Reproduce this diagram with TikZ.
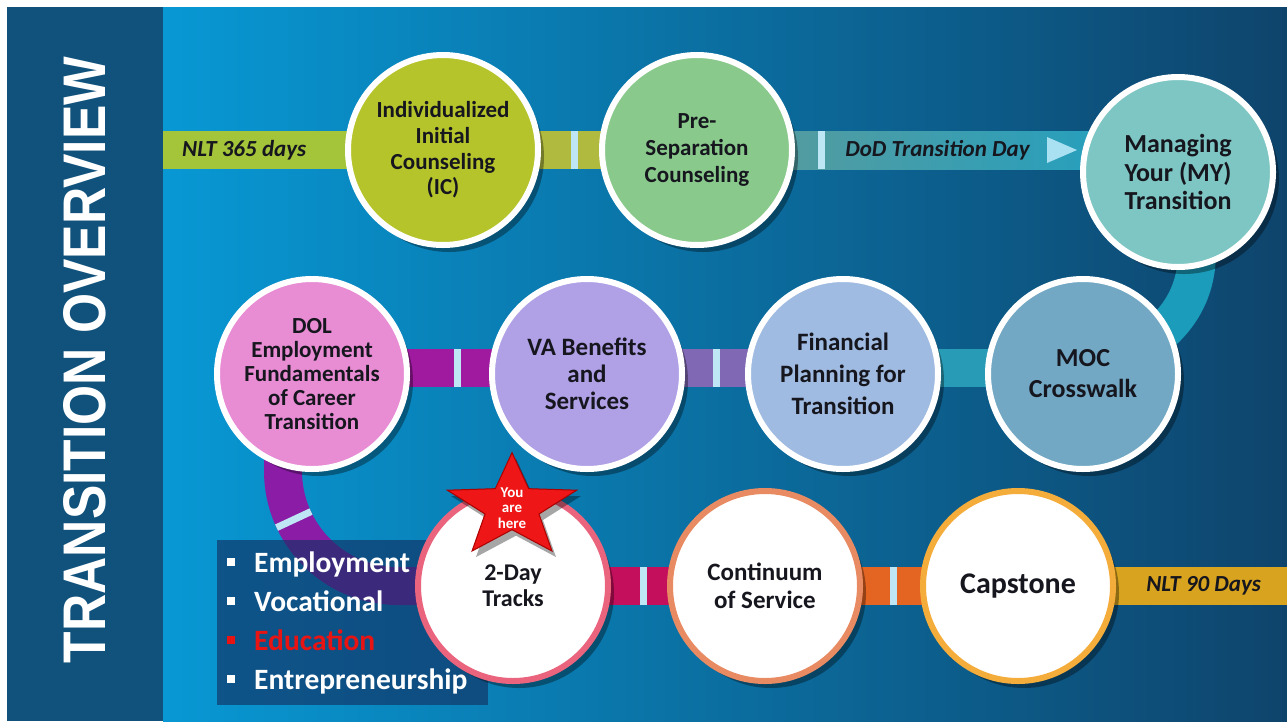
\documentclass[tikz,border=0pt]{standalone}
\usepackage{fontspec}
\usepackage{graphicx}
\setmainfont{Carlito}
\newfontfamily\titlefont{Liberation Sans}
\usetikzlibrary{shapes.geometric,shadows}

\pgfdeclarelayer{backdrop}
\pgfdeclarelayer{bands}
\pgfsetlayers{backdrop,bands,main}

\definecolor{ink}{RGB}{22,22,30}
\definecolor{panel}{RGB}{16,82,124}
\definecolor{bgleft}{RGB}{8,152,212}
\definecolor{bgright}{RGB}{14,68,108}
\definecolor{listbox}{RGB}{18,50,100}
\definecolor{stripecol}{RGB}{190,230,245}
\definecolor{edured}{RGB}{232,20,20}
% circle fills
\definecolor{icfill}{RGB}{182,196,44}
\definecolor{prefill}{RGB}{138,201,140}
\definecolor{myfill}{RGB}{126,198,195}
\definecolor{mocfill}{RGB}{114,168,196}
\definecolor{finfill}{RGB}{160,187,225}
\definecolor{vafill}{RGB}{176,160,230}
\definecolor{dolfill}{RGB}{232,140,212}
\definecolor{twodayring}{RGB}{234,100,126}
\definecolor{contring}{RGB}{232,138,98}
\definecolor{capring}{RGB}{244,172,58}
\definecolor{starred}{RGB}{238,22,22}
\definecolor{stardark}{RGB}{170,0,0}
% bands
\definecolor{nltgreen}{RGB}{164,196,58}
\definecolor{icband}{RGB}{176,186,62}
\definecolor{dodleft}{RGB}{95,155,152}
\definecolor{dodright}{RGB}{28,160,196}
\definecolor{arrowtint}{RGB}{170,225,242}
\definecolor{curveteal}{RGB}{26,156,186}
\definecolor{mocband}{RGB}{40,156,182}
\definecolor{finband}{RGB}{128,104,180}
\definecolor{vaband}{RGB}{160,26,160}
\definecolor{dolband}{RGB}{138,28,166}
\definecolor{dayband}{RGB}{196,16,92}
\definecolor{contband}{RGB}{228,100,34}
\definecolor{nltgold}{RGB}{216,163,30}

\begin{document}
\begin{tikzpicture}[
    x=1pt, y=1pt,
    fs/.style 2 args={font=\bfseries\fontsize{#1}{#2}\selectfont},
    stage/.style={circle, draw=white, line width=6pt, minimum size=190pt, inner sep=0pt,
        align=center, text=ink, fs={23}{26},
        drop shadow={shadow xshift=6pt, shadow yshift=-7pt, opacity=0.35, fill=black}},
    track/.style={stage, fill=white},
    band/.style={line width=38pt},
    stripe/.style={draw=stripecol, line width=7pt},
    tag/.style={text=ink, font=\bfseries\itshape\fontsize{23}{26}\selectfont},
    item/.style={anchor=base west, inner sep=0pt, text=white, fs={29.5}{32}}
]
\useasboundingbox (0,0) rectangle (1287,-721);

\begin{pgfonlayer}{backdrop}
  \fill[white] (0,0) rectangle (1287,-721);
  \fill[panel] (7,-7) rectangle (163,-721);
  \shade[left color=bgleft, right color=bgright] (163,-7) rectangle (1287,-721);
\end{pgfonlayer}

\node[text=white, rotate=90] (title) at (85,-360)
  {\resizebox{606pt}{42pt}{\titlefont\bfseries TRANSITION OVERVIEW}};

% the four tracks
\fill[listbox, opacity=0.65] (217,-540) rectangle (488,-705);
\foreach \word/\col [count=\i] in {Employment/white, Vocational/white, Education/edured, Entrepreneurship/white}
  \node[item, text=\col] (track\i) at (227,{-533-39*\i}) {\rule[6pt]{8pt}{8pt}\hspace{19pt}\word};

% stages
\node[stage, fill=icfill, fs={23}{25.7}] (ic) at (443,-150) {Individualized\\Initial\\Counseling\\(IC)};
\node[stage, fill=prefill, fs={23}{27}] (pre) at (697,-150) {Pre-\\Separation\\Counseling};
\node[stage, fill=myfill, fs={26}{28.5}] (my) at (1178,-172) {Managing\\Your (MY)\\Transition};
\node[stage, fill=mocfill, fs={26}{31}] (moc) at (1083,-374) {MOC\\Crosswalk};
\node[stage, fill=finfill, fs={25}{32}] (fin) at (843,-374) {Financial\\Planning for\\Transition};
\node[stage, fill=vafill, fs={25}{27}] (va) at (587,-374) {VA Benefits\\and\\Services};
\node[stage, fill=dolfill, fs={23}{23.8}] (dol) at (312,-374) {DOL\\Employment\\Fundamentals\\of Career\\Transition};
\node[track, draw=twodayring, fs={24}{26}] (twoday) at (513,-586) {2-Day\\Tracks};
\node[track, draw=contring, fs={25}{28}] (cont) at (765,-586) {Continuum\\of Service};
\node[track, draw=capring, fs={30}{32}] (cap) at (1018,-586) {Capstone};

% you are here
\begin{scope}[shift={(512,-507)}, yscale=0.8]
  \node[star, star points=5, star point ratio=2.4, minimum size=136pt, inner sep=0pt, transform shape,
      fill=starred, draw=stardark, line width=1pt,
      drop shadow={shadow xshift=4pt, shadow yshift=-6pt, opacity=0.35, fill=black}] (youstar) at (0,0) {};
\end{scope}
\node[align=center, text=white, fs={15}{15.5}] (youtext) at ([yshift=-1pt]youstar.center) {You\\are\\here};

% connectors
\begin{pgfonlayer}{bands}
  \coordinate (west365) at (163,-150);
  \coordinate (east90) at (1287,-586);
  \coordinate (dodend) at (pre.center -| my.center);
  \coordinate (dolfoot) at (283,-420);

  \draw[band, draw=nltgreen] (west365) -- node[tag, pos=0.29] (nlt365) {NLT 365 days} (ic.center);
  \draw[band, draw=icband] (ic.center) -- (pre.center);
  \shade[left color=dodleft, right color=dodright] ([yshift=19pt]pre.center) rectangle ([yshift=-19pt]dodend);
  \path (pre.center) -- node[tag, pos=0.5] (dodday) {DoD Transition Day} (dodend);
  \fill[arrowtint] (1047,-137) -- (1077,-150) -- (1047,-163) -- cycle;
  \draw[stripe] (574,-131) -- ++(0,-38);
  \draw[stripe] (821,-131) -- ++(0,-38);

  \draw[band, draw=curveteal] (my.center) .. controls (1215,-260) and (1205,-335) .. (moc.center);

  \draw[band, draw=mocband] ([yshift=6pt]moc.center) -- ([yshift=6pt]fin.center);
  \draw[band, draw=finband] ([yshift=6pt]fin.center) -- ([yshift=6pt]va.center);
  \draw[band, draw=vaband] ([yshift=6pt]va.center) -- ([yshift=6pt]dol.center);
  \draw[stripe] (716,-349) -- ++(0,-38);
  \draw[stripe] (457,-349) -- ++(0,-38);

  \draw[band, draw=dolband, rounded corners=115pt] (dolfoot) |- (twoday.center);
  \draw[stripe] ([shift={(398,-471)}]205:96) -- ([shift={(398,-471)}]205:134);

  \draw[band, draw=dayband] (twoday.center) -- (cont.center);
  \draw[band, draw=contband] (cont.center) -- (cap.center);
  \draw[band, draw=nltgold] (cap.center) -- node[tag, pos=0.69] (nlt90) {NLT 90 Days} (east90);
  \draw[stripe] (643,-567) -- ++(0,-38);
  \draw[stripe] (893,-567) -- ++(0,-38);
\end{pgfonlayer}

\end{tikzpicture}
\end{document}
